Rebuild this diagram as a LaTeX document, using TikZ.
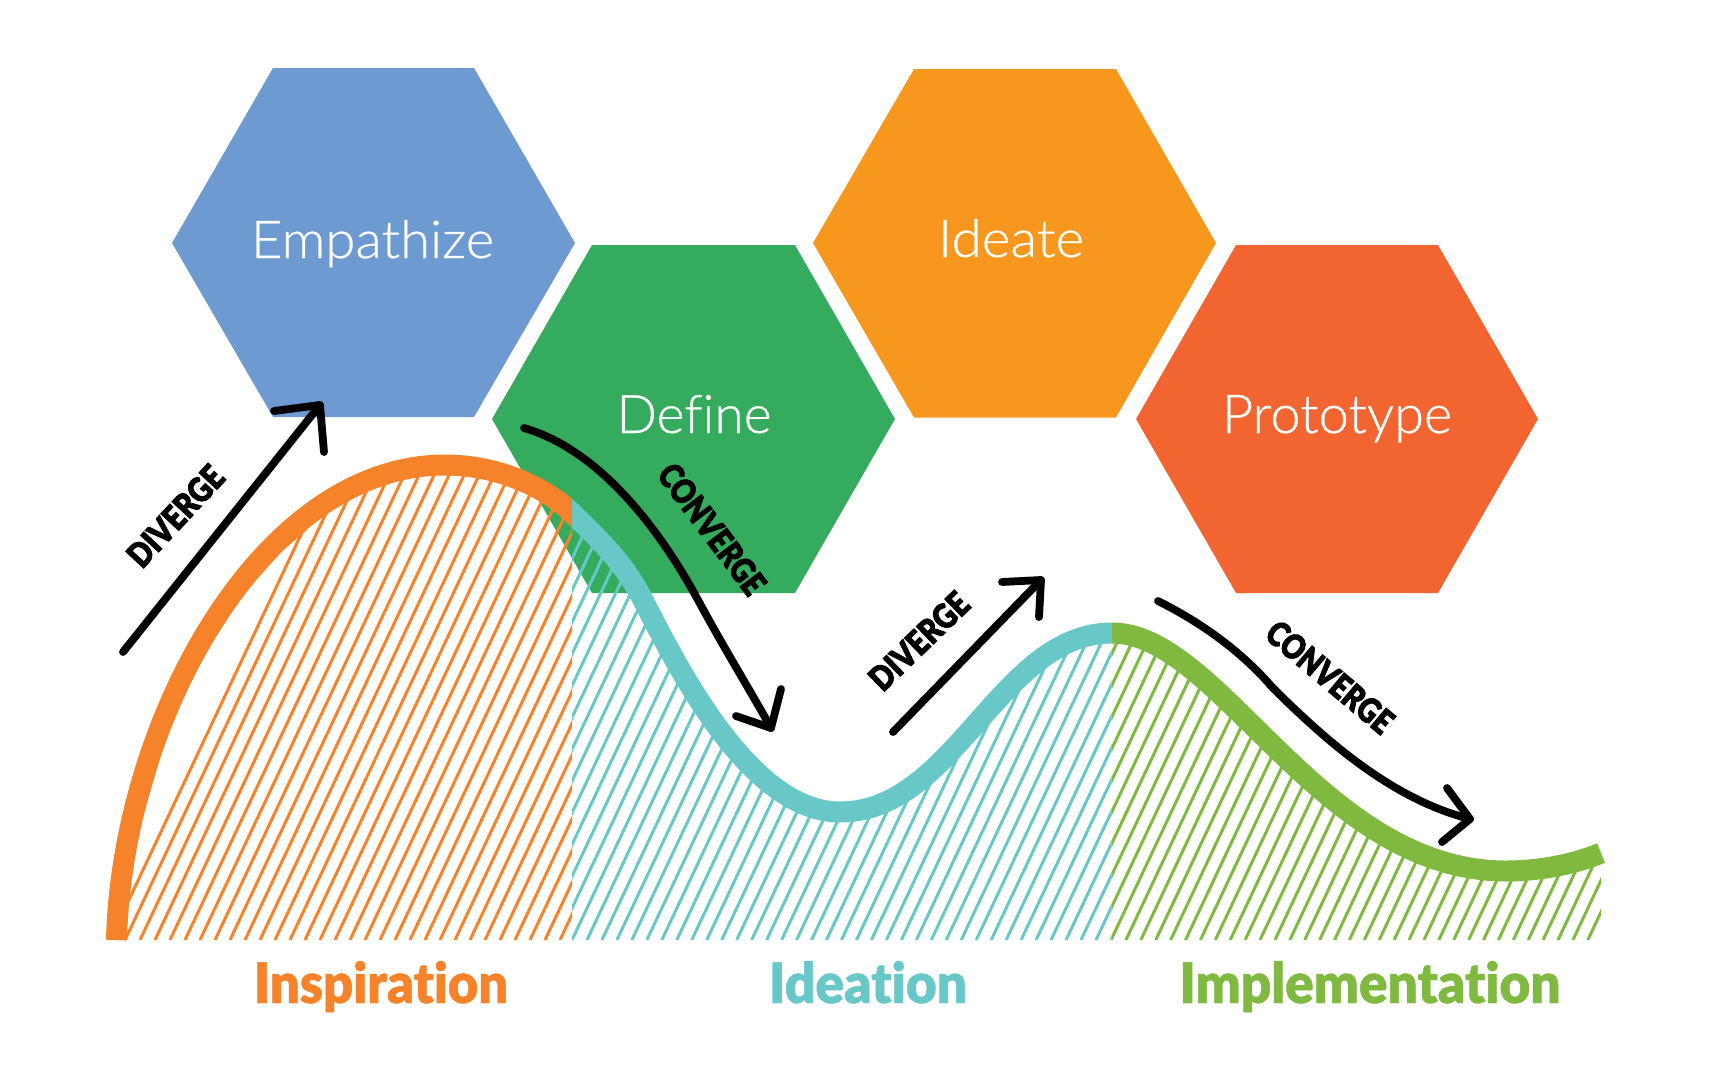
\documentclass[tikz,border=0pt]{standalone}
\usepackage{graphicx}
\usepackage{fontspec}
\setmainfont{Lato}
\newfontfamily\hexfont{Lato Light}[Ligatures=NoCommon,FakeBold=0.5]
\newfontfamily\labfont{Lato Black}[Ligatures=NoCommon,FakeBold=0.8]
\newfontfamily\flowfont{Lato Black}[Ligatures=NoCommon,FakeBold=2.5]
\definecolor{cblue}{HTML}{6D9AD1}
\definecolor{cgreen}{HTML}{34AB5D}
\definecolor{camber}{HTML}{F8971D}
\definecolor{cred}{HTML}{F26531}
\definecolor{korange}{HTML}{F6822A}
\definecolor{kteal}{HTML}{67C8C7}
\definecolor{kgreen}{HTML}{7FB93F}
\tikzset{
  hexbox/.style={fill=#1,draw=none},
  hextext/.style={anchor=base,text=white,inner sep=0pt,font=\hexfont},
  phasetext/.style={anchor=base,inner sep=0pt,font=\labfont},
  arrowline/.style={draw=black,line width=7.8pt,line cap=round,line join=round},
  flowtext/.style={anchor=center,inner sep=0pt,text=black,font=\flowfont},
  hatchline/.style={line width=3pt},
  curveline/.style={line width=21pt,line cap=butt}
}
\def\CurveOpen{(116.5,940) .. controls (122,720) and (262,465) .. (445,465)
  .. controls (498,465) and (545,487) .. (572,513)
  .. controls (605,545) and (625,565) .. (643,600)
  .. controls (678,668) and (750,812) .. (840,812)
  .. controls (955,812) and (1000,633) .. (1112,633)
  .. controls (1220,633) and (1320,871) .. (1506,871)
  .. controls (1540,871) and (1575,864) .. (1601,853)}
\begin{document}
\begin{tikzpicture}[x=1pt,y=-1pt]
\useasboundingbox (0,0) rectangle (1711,1090);
% hexagons
\path[hexbox=cblue]  (172,243) -- (273,68) -- (474,68) -- (575,243) -- (474,417) -- (273,417) -- cycle;
\path[hexbox=cgreen] (492,419) -- (592,245) -- (795,245) -- (895,419) -- (795,593) -- (592,593) -- cycle;
\path[hexbox=camber] (813,243) -- (914,69) -- (1116,69) -- (1216,243) -- (1116,417.5) -- (914,417.5) -- cycle;
\path[hexbox=cred]   (1136,419) -- (1236,245) -- (1438,245) -- (1538,419) -- (1438,593) -- (1236,593) -- cycle;
\node[hextext] (empathize) at (372.5,258) {\resizebox{243pt}{38pt}{Empathize}};
\node[hextext] (define) at (694,433) {\resizebox{155pt}{38pt}{Define}};
\node[hextext] (ideate) at (1011,257) {\resizebox{146pt}{38pt}{Ideate}};
\node[hextext] (prototype) at (1337,433) {\resizebox{230pt}{38pt}{Prototype}};
% hatching
\begin{scope}
  \clip (100,300) rectangle (572,940);
  \clip \CurveOpen -- (1601,940) -- (116.5,940) -- cycle;
  \foreach \k in {-2,...,28} \draw[korange,hatchline] ({140+15*\k},940) -- ++(245,-520);
\end{scope}
\begin{scope}
  \clip (572,300) rectangle (1111.5,940);
  \clip \CurveOpen -- (1601,940) -- (116.5,940) -- cycle;
  \foreach \k in {-20,...,36} \draw[kteal,hatchline] ({572+14.97*\k},940) -- ++(245,-520);
\end{scope}
\begin{scope}
  \clip (1111.5,300) rectangle (1603,940);
  \clip \CurveOpen -- (1601,940) -- (116.5,940) -- cycle;
  \foreach \k in {-20,...,34} \draw[kgreen,hatchline] ({1111+14.9*\k},940) -- ++(245,-520);
\end{scope}
% curve
\begin{scope}
  \clip (90,300) rectangle (572,940);
  \draw[korange,curveline] \CurveOpen;
  \fill[korange] (126,940) -- (129,883) -- (140,827) -- (153.6,780) -- (167,733) -- (186,683)
    -- (233,610) -- (247,590) -- (283,550) -- (307,530) -- (290,530) -- (265,555) -- (188,653)
    -- (150,753) -- (125,840) -- (117,930) -- (117,940) -- cycle;
\end{scope}
\begin{scope}
  \clip (572,300) rectangle (1112,940);
  \draw[kteal,curveline] \CurveOpen;
\end{scope}
\begin{scope}
  \clip (1112,300) rectangle (1640,940);
  \draw[kgreen,curveline] \CurveOpen;
\end{scope}
% arrows
\coordinate (d1tail) at (123,652); \coordinate (d1tip) at (320,405);
\coordinate (d1a) at (274,411); \coordinate (d1b) at (324,452);
\draw[arrowline] (d1tail) -- (d1tip);
\draw[arrowline] (d1a) -- (d1tip) -- (d1b);
\coordinate (c1tail) at (524,428); \coordinate (c1tip) at (771,728);
\coordinate (c1a) at (736,716); \coordinate (c1b) at (781,689);
\draw[arrowline] (c1tail) .. controls (600,450) and (660,530) .. (698,600) .. controls (725,650) and (750,690) .. (c1tip);
\draw[arrowline] (c1a) -- (c1tip) -- (c1b);
\coordinate (d2tail) at (893,732); \coordinate (d2tip) at (1041,580);
\coordinate (d2a) at (1002,582); \coordinate (d2b) at (1039,617);
\draw[arrowline] (d2tail) -- (d2tip);
\draw[arrowline] (d2a) -- (d2tip) -- (d2b);
\coordinate (c2tail) at (1158,601); \coordinate (c2tip) at (1470,819);
\coordinate (c2a) at (1447,788); \coordinate (c2b) at (1442,842);
\draw[arrowline] (c2tail) .. controls (1200,622) and (1240,650) .. (1272,687)
  .. controls (1330,745) and (1395,800) .. (c2tip);
\draw[arrowline] (c2a) -- (c2tip) -- (c2b);
% arrow labels
\node[flowtext,rotate=47] (div1) at (175.5,516) {\resizebox{124pt}{25pt}{DIVERGE}};
\node[flowtext,rotate=-53] (con1) at (712,529) {\resizebox{154pt}{25pt}{CONVERGE}};
\node[flowtext,rotate=44] (div2) at (919,641) {\resizebox{124pt}{25pt}{DIVERGE}};
\node[flowtext,rotate=-40] (con2) at (1330,677) {\resizebox{154pt}{25pt}{CONVERGE}};
% phase labels
\node[phasetext,text=korange] (inspiration) at (381,1003) {\resizebox{254pt}{42pt}{Inspiration}};
\node[phasetext,text=kteal] (ideation) at (868,1003) {\resizebox{198pt}{42pt}{Ideation}};
\node[phasetext,text=kgreen] (implementation) at (1370,1003) {\resizebox{381pt}{42pt}{Implementation}};
\end{tikzpicture}
\end{document}
